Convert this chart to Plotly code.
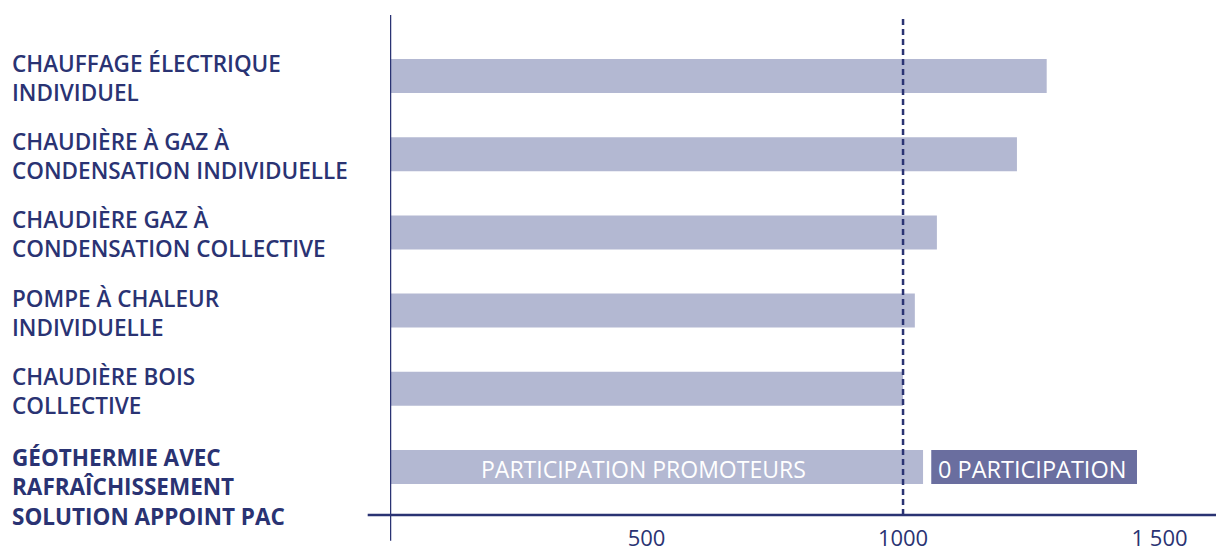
import plotly.graph_objects as go

# Heating systems and their cost index
categories = [
    "CHAUFFAGE ÉLECTRIQUE<br>INDIVIDUEL",
    "CHAUDIÈRE À GAZ À<br>CONDENSATION INDIVIDUELLE",
    "CHAUDIÈRE GAZ À<br>CONDENSATION COLLECTIVE",
    "POMPE À CHALEUR<br>INDIVIDUELLE",
    "CHAUDIÈRE BOIS<br>COLLECTIVE",
    "GÉOTHERMIE AVEC<br>RAFRAÎCHISSEMENT<br>SOLUTION APPOINT PAC",
]
values = [1280, 1222, 1066, 1023, 1000, 1039]

# Extra segment on the geothermal row
extra_base = 1055
extra_length = 401
extra_label = "0 PARTICIPATION"
inner_label = "PARTICIPATION PROMOTEURS"

reference_value = 1000
tick_values = [500, 1000, 1500]
tick_text = ["500", "1000", "1 500"]

NAVY = "#2a3373"
LIGHT = "#b3b8d2"
DARK = "#6a6e9f"
FONT = "Open Sans"

cat_ids = list(range(len(categories)))

fig = go.Figure()
fig.add_trace(go.Bar(
    x=values, y=cat_ids, orientation="h",
    marker=dict(color=LIGHT, line=dict(width=0)),
    width=0.435, hoverinfo="x",
))
fig.add_trace(go.Bar(
    x=[extra_length], y=[cat_ids[-1]], base=[extra_base], orientation="h",
    marker=dict(color=DARK, line=dict(width=0)),
    width=0.435, hoverinfo="x",
))

annotations = []
for i, label in enumerate(categories):
    last = i == len(categories) - 1
    annotations.append(dict(
        x=-390 / 826, xref="paper", xanchor="left", xshift=10,
        y=i, yref="y", yanchor="top", yshift=27 if last else 30,
        text=label, showarrow=False, align="left",
        font=dict(family=FONT, size=22.5, color=NAVY, weight=700 if last else 600),
    ))
annotations.append(dict(
    x=values[-1] / 2 - 26, y=cat_ids[-1], xref="x", yref="y", yshift=-2,
    text=inner_label, showarrow=False,
    font=dict(family=FONT, size=23, color="white"),
))
annotations.append(dict(
    x=extra_base + extra_length / 2 - 4, y=cat_ids[-1], xref="x", yref="y", yshift=-2,
    text=extra_label, showarrow=False,
    font=dict(family=FONT, size=23.5, color="white"),
))

shapes = [
    # reference line
    dict(type="line", xref="x", yref="paper", x0=reference_value, x1=reference_value,
         y0=0, y1=0.968, line=dict(color=NAVY, width=2.5, dash="6px,4px")),
    # vertical axis
    dict(type="line", xref="x", yref="paper", x0=0, x1=0, y0=-0.05, y1=0.971,
         line=dict(color=NAVY, width=2.5)),
    # horizontal axis
    dict(type="line", xref="paper", yref="paper", x0=-0.027, x1=1, y0=0, y1=0,
         line=dict(color=NAVY, width=2.5)),
]

fig.update_layout(
    width=1216, height=552,
    margin=dict(l=390, r=0, t=0, b=37),
    paper_bgcolor="white", plot_bgcolor="white",
    barmode="overlay", showlegend=False,
    font=dict(family=FONT, color=NAVY),
    xaxis=dict(range=[0, 1610], tickvals=tick_values, ticktext=tick_text,
               showgrid=False, zeroline=False, showline=False, ticks="",
               tickfont=dict(family=FONT, size=22, color=NAVY),
               ticklabelstandoff=8, automargin=False),
    yaxis=dict(range=[5.614, -0.972], showticklabels=False, showgrid=False,
               zeroline=False, showline=False, ticks="", automargin=False),
    annotations=annotations, shapes=shapes,
)

fig.write_html("out.html")
